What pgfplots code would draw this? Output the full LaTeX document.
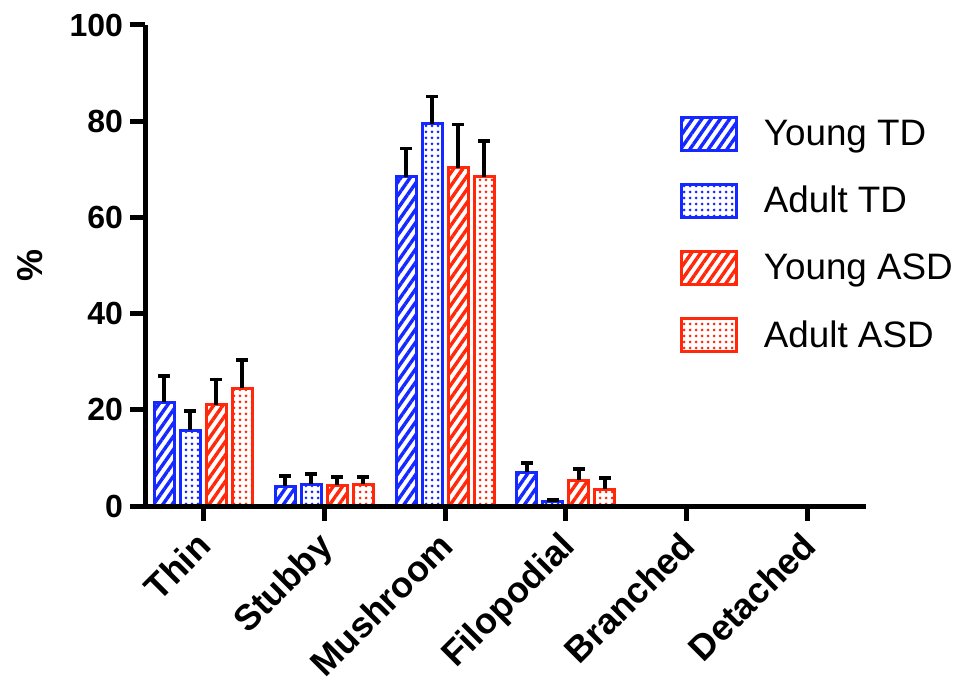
\documentclass[border=0pt]{standalone}
\usepackage{fontspec}
\setmainfont{Liberation Sans}
\usepackage{pgfplots}
\pgfplotsset{compat=1.18}
\usetikzlibrary{patterns.meta}
\definecolor{myblue}{RGB}{20,40,255}
\definecolor{myred}{RGB}{255,40,10}

\pgfplotsset{
  errstyle/.style={error bars/.cd, y dir=plus, y explicit,
    error bar style={line width=1.8pt,black},
    error mark options={black, line width=1.8pt, mark size=3pt, rotate=90}},
  leg/.style={legend image code/.code={\draw[##1,line width=1.5pt] (0pt,-8.25pt) rectangle (27.5pt,8.25pt);}},
}

\begin{document}
\begin{tikzpicture}
\begin{axis}[
  scale only axis, width=360.5pt, height=240.5pt,
  xmin=-0.48, xmax=5.48, ymin=0, ymax=100,
  axis x line*=bottom, axis y line*=left,
  axis line style={line width=2.5pt},
  ytick={0,20,...,100},
  xtick={0,...,5},
  xticklabels={Thin,Stubby,Mushroom,Filopodial,Branched,Detached},
  tick align=outside, major tick length=7.5pt,
  tick style={line width=2.5pt, black},
  /pgf/number format/assume math mode=true,
  yticklabel style={font=\fontsize{16}{19}\selectfont\bfseries},
  xticklabel style={xshift=-4pt, yshift=0.5pt, font=\fontsize{18}{21}\selectfont\bfseries, rotate=45, anchor=north east},
  ylabel={\%},
  every axis y label/.style={at={(axis description cs:-0.16,0.5)}, rotate=90, anchor=center, font=\fontsize{18}{21}\selectfont\bfseries},
  ybar=3pt, bar width=10pt,
  axis on top,
  legend style={draw=none, fill=none, at={(axis description cs:0.733,0.82)}, anchor=north west,
    font=\fontsize{18.4}{22}\selectfont, row sep=15pt, /tikz/every odd column/.append style={column sep=11pt}},
  legend cell align=left,
]
\addplot[draw=myblue, line width=1.5pt, pattern={Lines[angle=55,distance=3.8pt,line width=1.7pt]}, pattern color=myblue, leg, errstyle]
  table[x=x,y=y,y error=e] {
x y e
0 21.6 5.4
1 4.1 2.1
2 68.5 5.8
3 7.0 2.0
};
\addlegendentry{Young TD}
\addplot[draw=myblue, line width=1.5pt, pattern={Dots[distance=3pt,radius=0.75pt]}, pattern color=myblue, leg, errstyle]
  table[x=x,y=y,y error=e] {
x y e
0 15.8 3.9
1 4.5 2.1
2 79.5 5.6
3 1.0 0.3
};
\addlegendentry{Adult TD}
\addplot[draw=myred, line width=1.5pt, pattern={Lines[angle=55,distance=3.8pt,line width=1.7pt]}, pattern color=myred, leg, errstyle]
  table[x=x,y=y,y error=e] {
x y e
0 21.0 5.3
1 4.3 1.7
2 70.3 9.0
3 5.4 2.3
};
\addlegendentry{Young ASD}
\addplot[draw=myred, line width=1.5pt, pattern={Dots[distance=3pt,radius=0.75pt]}, pattern color=myred, leg, errstyle]
  table[x=x,y=y,y error=e] {
x y e
0 24.5 5.8
1 4.5 1.5
2 68.5 7.4
3 3.5 2.3
};
\addlegendentry{Adult ASD}
\end{axis}
\pgfresetboundingbox
\path (-72.5pt,-89pt) rectangle (411.5pt,253pt);
\end{tikzpicture}
\end{document}
